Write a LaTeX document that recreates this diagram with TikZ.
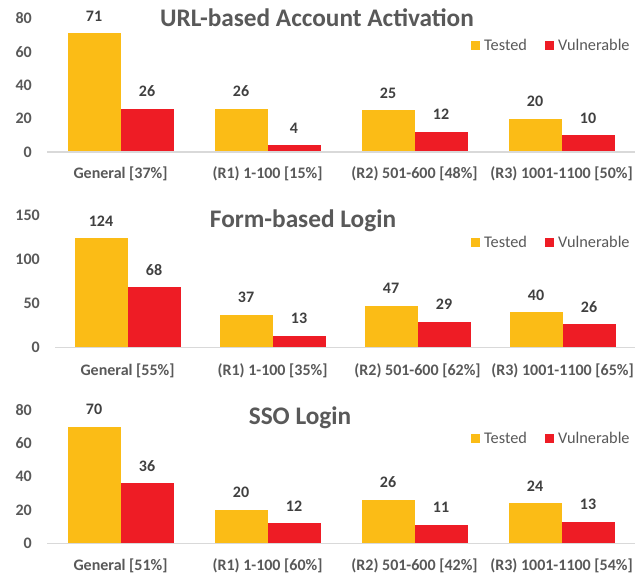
\documentclass[tikz,border=0pt]{standalone}
\usepackage{fontspec}
\setmainfont{Carlito}
\definecolor{tested}{HTML}{FBBC16}
\definecolor{vuln}{HTML}{EE1C25}
\definecolor{axisgray}{HTML}{D9D9D9}
\definecolor{txtgray}{HTML}{595959}
\definecolor{valgray}{HTML}{404040}
\tikzset{
  ticklbl/.style={anchor=east, font=\fontsize{16}{16}\selectfont\bfseries, text=txtgray, inner sep=0pt},
  vallbl/.style={anchor=base, font=\fontsize{16}{16}\selectfont\bfseries, text=valgray, inner sep=0pt},
  catlbl/.style={anchor=base, font=\fontsize{16}{16}\selectfont\bfseries, text=txtgray, inner sep=0pt},
  charttitle/.style={anchor=base, font=\fontsize{25.3}{26}\selectfont\bfseries, text=txtgray, inner sep=0pt},
  legtxt/.style={anchor=base west, font=\fontsize{16.3}{17}\selectfont, text=txtgray, inner sep=0pt},
  baraxis/.style={draw=axisgray, line width=1.5pt},
}
% Bars, value labels and category labels of one chart.
% Needs \xa (axis start), \xb (axis end), \base (zero line), \ppu (pixels per unit), \caty, \cid
\newcommand\drawbars[1]{%
  \pgfmathsetmacro\cw{(\xb-\xa)/4}
  \foreach \i/\t/\v/\lab in {#1} {
    \pgfmathsetmacro\cx{\xa+(\i+0.5)*\cw}
    \pgfmathsetmacro\ty{\base-\t*\ppu}
    \pgfmathsetmacro\vy{\base-\v*\ppu}
    \fill[tested] (\cx-53,\base) rectangle (\cx,\ty);
    \fill[vuln] (\cx,\base) rectangle (\cx+53,\vy);
    \node[vallbl] (\cid t\i) at (\cx-26.5,\ty-12) {\t};
    \node[vallbl] (\cid v\i) at (\cx+26.5,\vy-12) {\v};
    \node[catlbl] (\cid c\i) at (\cx,\caty) {\lab};
  }
  \draw[baraxis] (\xa,\base) -- (\xb,\base);
}
% Legend with its baseline at #1
\newcommand\drawlegend[2]{%
  \fill[tested] (471,#1-9.5) rectangle (479.5,#1-0.5);
  \node[legtxt] (#2lt) at (484,#1) {Tested};
  \fill[vuln] (545,#1-9.5) rectangle (553.5,#1-0.5);
  \node[legtxt] (#2lv) at (558,#1) {Vulnerable};
}
\begin{document}
\begin{tikzpicture}[x=1pt,y=-1pt]
\fill[white] (0,0) rectangle (644,573);
\useasboundingbox (0,0) rectangle (644,573);

% URL-based account activation
\def\cid{a}\def\xa{47}\def\xb{635}\def\base{152}\def\ppu{1.67}\def\caty{178}
\foreach \tk in {0,20,...,80} \node[ticklbl] (a\tk) at (\xa-15,\base-\tk*\ppu) {\tk};
\drawbars{0/71/26/{General [37\%]},1/26/4/{(R1) 1-100 [15\%]},2/25/12/{(R2) 501-600 [48\%]},3/20/10/{(R3) 1001-1100 [50\%]}}
\node[charttitle] (atitle) at (317,26) {URL-based Account Activation};
\drawlegend{50.7}{a}

% Form-based login
\def\cid{b}\def\xa{55}\def\xb{635}\def\base{347.3}\def\ppu{0.88}\def\caty{375}
\foreach \tk in {0,50,...,150} \node[ticklbl] (b\tk) at (\xa-15,\base-\tk*\ppu) {\tk};
\drawbars{0/124/68/{General [55\%]},1/37/13/{(R1) 1-100 [35\%]},2/47/29/{(R2) 501-600 [62\%]},3/40/26/{(R3) 1001-1100 [65\%]}}
\node[charttitle] (btitle) at (303,227.3) {Form-based Login};
\drawlegend{247.3}{b}

% SSO login
\def\cid{c}\def\xa{47}\def\xb{635}\def\base{543.3}\def\ppu{1.667}\def\caty{570}
\foreach \tk in {0,20,...,80} \node[ticklbl] (c\tk) at (\xa-15,\base-\tk*\ppu) {\tk};
\drawbars{0/70/36/{General [51\%]},1/20/12/{(R1) 1-100 [60\%]},2/26/11/{(R2) 501-600 [42\%]},3/24/13/{(R3) 1001-1100 [54\%]}}
\node[charttitle] (ctitle) at (300,424) {SSO Login};
\drawlegend{443.3}{c}
\end{tikzpicture}
\end{document}
